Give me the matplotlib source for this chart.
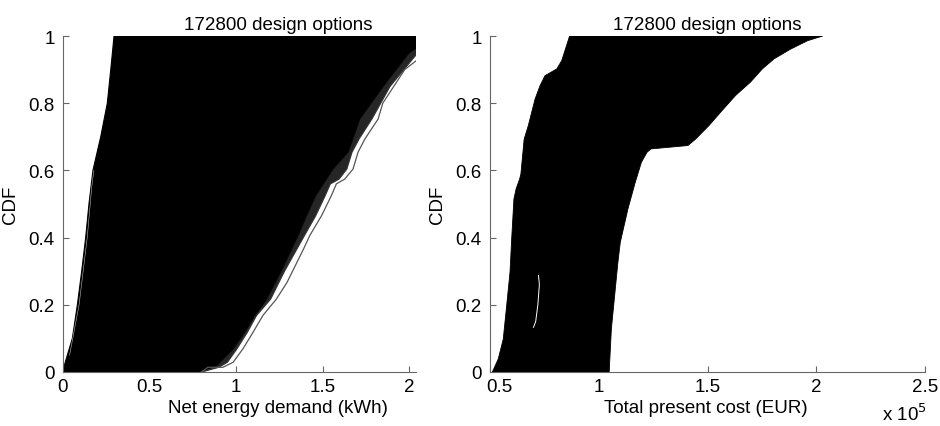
import numpy as np
import matplotlib
matplotlib.use("Agg")
import matplotlib.pyplot as plt
from matplotlib.ticker import FormatStrFormatter
from matplotlib.transforms import ScaledTranslation

plt.rcParams['font.family'] = ['Liberation Sans', 'DejaVu Sans']
FS = 13.5
plt.rcParams['font.size'] = FS

# ---------------- data: left panel (net energy demand, kWh) ----------------
energy_left_cdf = [0, 0.02, 0.05, 0.1, 0.2, 0.3, 0.4, 0.5, 0.6, 0.7, 0.8, 0.9, 1.0]
energy_left_x = [0, 0.008, 0.025, 0.054, 0.083, 0.108, 0.131, 0.15, 0.173, 0.218, 0.256, 0.276, 0.295]

energy_gap_cdf = [0.05, 0.2, 0.4, 0.55, 0.6]
energy_gap_x = [0.038, 0.093, 0.14, 0.166, 0.178]

energy_inner_cdf = [0, 0.019, 0.069, 0.118, 0.168, 0.217, 0.30, 0.406, 0.465, 0.525, 0.604,
                    0.654, 0.753, 0.85, 0.95, 1.0]
energy_inner_x = [0.79, 0.887, 0.983, 1.05, 1.108, 1.176, 1.26, 1.358, 1.407, 1.46, 1.56,
                  1.647, 1.715, 1.85, 2.0, 2.15]

energy_mid_cdf = [0, 0.014, 0.029, 0.069, 0.118, 0.168, 0.217, 0.30, 0.406, 0.465, 0.525, 0.56,
                  0.574, 0.604, 0.654, 0.693, 0.753, 0.85, 0.95, 1.0]
energy_mid_x = [0.80, 0.90, 0.95, 1.005, 1.065, 1.118, 1.20, 1.28, 1.395, 1.46, 1.515, 1.545,
                1.595, 1.64, 1.67, 1.71, 1.785, 1.89, 2.05, 2.15]

energy_outer_cdf = [0, 0.014, 0.014, 0.029, 0.069, 0.118, 0.168, 0.217, 0.267, 0.366, 0.406,
                    0.465, 0.525, 0.56, 0.574, 0.604, 0.654, 0.693, 0.753, 0.8, 0.9, 0.93]
energy_outer_x = [0.80, 0.837, 0.924, 0.983, 1.04, 1.098, 1.155, 1.233, 1.295, 1.39, 1.426,
                  1.494, 1.551, 1.58, 1.628, 1.676, 1.705, 1.744, 1.821, 1.848, 1.975, 2.05]

# ---------------- data: right panel (total present cost, x 1e5 EUR) ----------------
cost_left_cdf = [0, 0.039, 0.098, 0.2, 0.297, 0.4, 0.515, 0.545, 0.574, 0.589, 0.693, 0.733,
                 0.812, 0.852, 0.882, 0.902, 0.927, 0.996, 1.0]
cost_left_x = [0.511, 0.538, 0.561, 0.577, 0.592, 0.60, 0.61, 0.62, 0.636, 0.642, 0.657, 0.676,
               0.707, 0.730, 0.753, 0.807, 0.83, 0.864, 0.866]

cost_right_cdf = [0, 0.128, 0.227, 0.326, 0.386, 0.485, 0.565, 0.624, 0.654, 0.664, 0.674, 0.693,
                  0.733, 0.773, 0.823, 0.863, 0.902, 0.932, 0.961, 0.986, 1.0]
cost_right_x = [1.048, 1.058, 1.073, 1.088, 1.099, 1.134, 1.168, 1.196, 1.222, 1.24, 1.41, 1.445,
                1.506, 1.56, 1.629, 1.698, 1.752, 1.806, 1.882, 1.96, 2.03]

cost_gap_cdf = [0.133, 0.15, 0.2, 0.26, 0.287]
cost_gap_x = [0.70, 0.71, 0.72, 0.727, 0.723]

title_text = "172800 design options"
cdf_ticks = [0, 0.2, 0.4, 0.6, 0.8, 1.0]
energy_ticks = [0, 0.5, 1, 1.5, 2]
cost_ticks = [0.5, 1, 1.5, 2, 2.5]

# ---------------- figure ----------------
W, H = 940, 427
fig = plt.figure(figsize=(W / 100, H / 100), dpi=100)

def px_axes(l, r, b, t):
    return fig.add_axes([l / W, 1 - b / H, (r - l) / W, (b - t) / H])

ax1 = px_axes(63, 416, 373, 37)
ax2 = px_axes(490, 925, 373, 37)

spine_col = '#666666'
for ax in (ax1, ax2):
    for s in ('top', 'right'):
        ax.spines[s].set_visible(False)
    for s in ('left', 'bottom'):
        ax.spines[s].set_color(spine_col)
        ax.spines[s].set_linewidth(0.8)
    ax.tick_params(direction='in', length=4, width=0.8, color=spine_col,
                   labelsize=FS, labelcolor='black')
    ax.tick_params(axis='y', pad=6)
    ax.tick_params(axis='x', pad=4)
    ax.set_ylim(0, 1)
    ax.set_yticks(cdf_ticks)
    ax.yaxis.set_major_formatter(FormatStrFormatter('%g'))
    ax.xaxis.set_major_formatter(FormatStrFormatter('%g'))
    ax.set_ylabel("CDF", fontsize=FS, labelpad=7)

# left panel
ax1.set_xlim(0, 2.04)
ax1.set_xticks(energy_ticks)
band_x = np.concatenate([energy_inner_x, energy_mid_x[::-1]])
band_y = np.concatenate([energy_inner_cdf, energy_mid_cdf[::-1]])
ax1.fill(band_x, band_y, color='#262626', lw=0, zorder=2)
poly_x = np.concatenate([energy_left_x, energy_inner_x[::-1]])
poly_y = np.concatenate([energy_left_cdf, energy_inner_cdf[::-1]])
ax1.fill(poly_x, poly_y, color='black', lw=0.8, zorder=2)
ax1.plot(energy_mid_x, energy_mid_cdf, color='#333333', lw=0.9, zorder=3)
ax1.plot(energy_outer_x, energy_outer_cdf, color='#555555', lw=0.9, zorder=3)
ax1.plot(energy_gap_x, energy_gap_cdf, color='#bbbbbb', lw=0.4, zorder=3)
ax1.plot([energy_left_x[-1], 2.2], [1, 1], color='black', lw=1.0, zorder=3)
ax1.set_title(title_text, fontsize=FS, x=0.609, pad=5)
ax1.set_xlabel("Net energy demand (kWh)", fontsize=FS)
ax1.xaxis.set_label_coords(0.609, -0.08)

# right panel
ax2.set_xlim(0.5, 2.5)
ax2.set_xticks(cost_ticks)
poly_x2 = np.concatenate([cost_left_x, cost_right_x[::-1]])
poly_y2 = np.concatenate([cost_left_cdf, cost_right_cdf[::-1]])
ax2.fill(poly_x2, poly_y2, color='black', lw=0.6, zorder=2)
ax2.plot(cost_gap_x, cost_gap_cdf, color='white', lw=0.7, zorder=3)
ax2.set_title(title_text, fontsize=FS, pad=5)
ax2.set_xlabel("Total present cost (EUR)", fontsize=FS)
ax2.xaxis.set_label_coords(0.495, -0.08)

# first x tick label of right panel sits slightly right of its tick, as in the reference
first_lbl = ax2.xaxis.get_major_ticks()[0].label1
first_lbl.set_transform(first_lbl.get_transform() + ScaledTranslation(0.09, 0, fig.dpi_scale_trans))

fig.text(882 / W, 1 - 421 / H, r"x 10$^{5}$", fontsize=FS, ha='left', va='baseline')

fig.savefig("out.png", dpi=100, facecolor='white')
